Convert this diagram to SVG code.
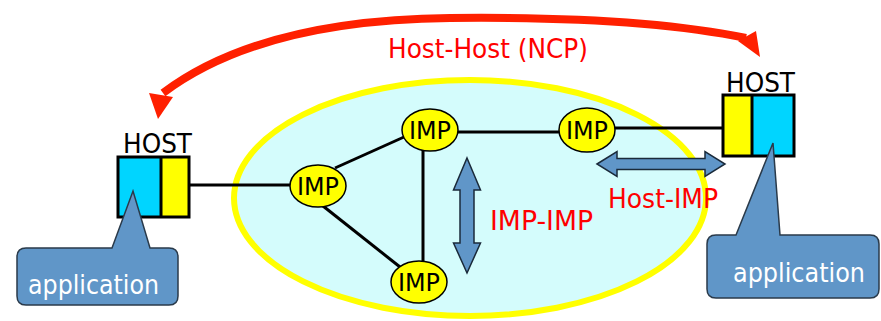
<svg xmlns="http://www.w3.org/2000/svg" width="881" height="321" viewBox="0 0 881 321">
<style>
.t{font-family:'DejaVu Sans',Verdana,sans-serif}
.red{fill:#ff0000}
.link{stroke:#000;stroke-width:3;fill:none}
.imp{fill:#ffff00;stroke:#000;stroke-width:1.5}
.imptxt{font-size:24px;fill:#000;text-anchor:middle}
.cyan{fill:#00d5ff}
.yel{fill:#ffff00}
.box{fill:none;stroke:#000;stroke-width:3}
.call{fill:#6096c8;stroke:#2a3a4a;stroke-width:1.5}
.calltxt{font-size:27px;fill:#fff}
.barrow{fill:#6096c8;stroke:#1a2a3a;stroke-width:1.5}
</style>
<rect width="881" height="321" fill="#fff"/>
<g id="subnet">
<ellipse cx="470" cy="198" rx="236" ry="118" fill="#d4fcfc" stroke="#ffff00" stroke-width="6"/>
</g>
<g id="connectors">
<line class="link" x1="189" y1="185" x2="292" y2="185"/>
<line class="link" x1="335" y1="168" x2="404" y2="137"/>
<line class="link" x1="323" y1="206" x2="400" y2="267"/>
<line class="link" x1="423" y1="150" x2="423" y2="263"/>
<line class="link" x1="456" y1="132" x2="560" y2="132"/>
<line class="link" x1="614" y1="128" x2="723" y2="128"/>
<path d="M163,93 Q260,20 450,18 Q640,16 746,38" fill="none" stroke="#ff2000" stroke-width="8"/>
<polygon points="149,93 158,119 173,97" fill="#ff2000"/>
<polygon points="756,31 760,57 738,41" fill="#ff2000"/>
<polygon class="barrow" points="467,158 480.5,190 474,190 474,243 480.5,243 467,273 453.5,243 460,243 460,190 453.5,190"/>
<polygon class="barrow" points="597,164 617,151.5 617,158.5 705,158.5 705,151.5 725,164 705,176.5 705,169.5 617,169.5 617,176.5"/>
</g>
<g id="imp-left">
<ellipse class="imp" cx="318" cy="186" rx="28" ry="21"/>
<text class="t imptxt" x="318" y="195" textLength="42" lengthAdjust="spacingAndGlyphs">IMP</text>
</g>
<g id="imp-top">
<ellipse class="imp" cx="430" cy="130" rx="28" ry="21"/>
<text class="t imptxt" x="430" y="139" textLength="42" lengthAdjust="spacingAndGlyphs">IMP</text>
</g>
<g id="imp-right">
<ellipse class="imp" cx="587" cy="130" rx="28" ry="22"/>
<text class="t imptxt" x="587" y="139" textLength="42" lengthAdjust="spacingAndGlyphs">IMP</text>
</g>
<g id="imp-bottom">
<ellipse class="imp" cx="419" cy="282" rx="28" ry="21"/>
<text class="t imptxt" x="419" y="291" textLength="42" lengthAdjust="spacingAndGlyphs">IMP</text>
</g>
<g id="host-left">
<rect class="cyan" x="118" y="157" width="43" height="60"/>
<rect class="yel" x="161" y="157" width="28" height="60"/>
<line x1="161" y1="157" x2="161" y2="217" stroke="#000" stroke-width="3"/>
<rect class="box" x="118" y="157" width="71" height="60"/>
<text class="t" x="123" y="153" font-size="26" textLength="69" lengthAdjust="spacingAndGlyphs">HOST</text>
</g>
<g id="host-right">
<rect class="yel" x="723" y="95" width="29" height="61"/>
<rect class="cyan" x="752" y="95" width="42" height="61"/>
<line x1="752" y1="95" x2="752" y2="156" stroke="#000" stroke-width="3"/>
<rect class="box" x="723" y="95" width="71" height="61"/>
<text class="t" x="726" y="92" font-size="26" textLength="69" lengthAdjust="spacingAndGlyphs">HOST</text>
</g>
<g id="app-left">
<path class="call" d="M26,248 H112 L133,191 L150,248 H169 Q178,248 178,257 V296 Q178,305 169,305 H26 Q17,305 17,296 V257 Q17,248 26,248 Z"/>
<text class="t calltxt" x="28" y="294" textLength="131" lengthAdjust="spacingAndGlyphs">application</text>
</g>
<g id="app-right">
<path class="call" d="M716,235 H736 L773,143 L780,235 H870 Q879,235 879,244 V289 Q879,298 870,298 H716 Q707,298 707,289 V244 Q707,235 716,235 Z"/>
<text class="t calltxt" x="733" y="282" textLength="132" lengthAdjust="spacingAndGlyphs">application</text>
</g>
<g id="labels">
<text class="t red" x="388" y="58" font-size="27" textLength="200" lengthAdjust="spacingAndGlyphs">Host-Host (NCP)</text>
<text class="t red" x="490" y="230" font-size="27" textLength="103" lengthAdjust="spacingAndGlyphs">IMP-IMP</text>
<text class="t red" x="608" y="208" font-size="26" textLength="110" lengthAdjust="spacingAndGlyphs">Host-IMP</text>
</g>
</svg>
